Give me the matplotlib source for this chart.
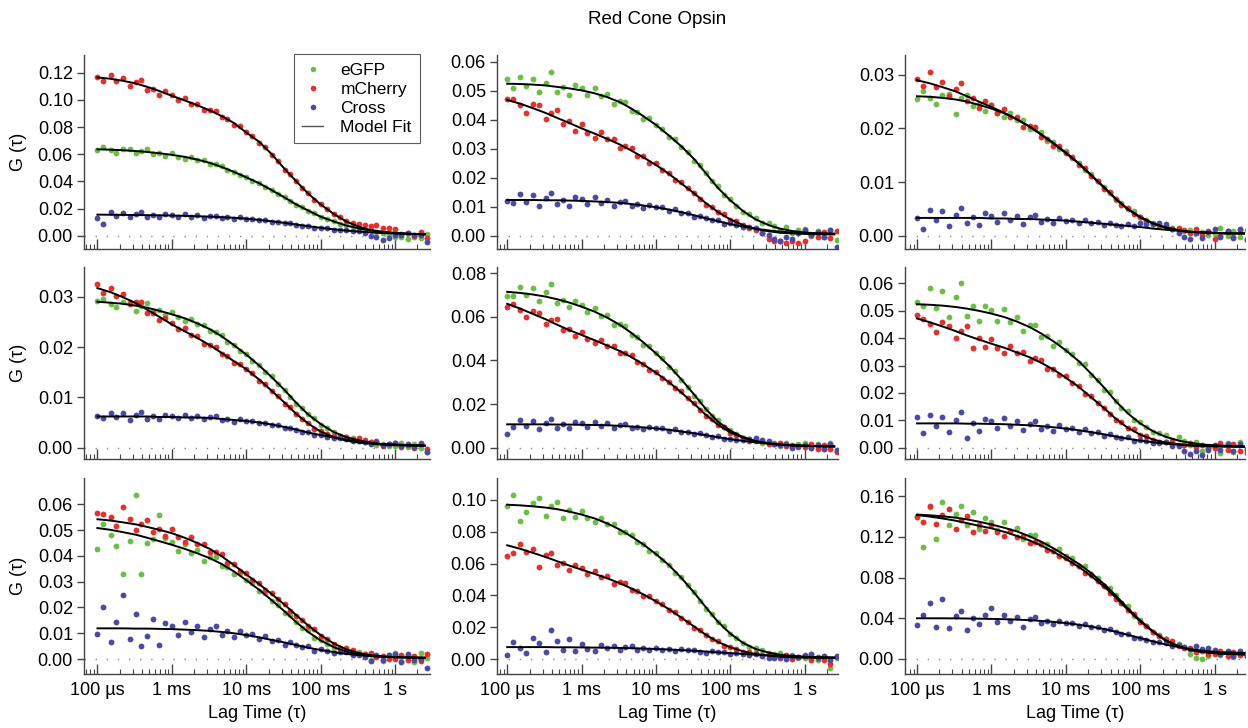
import matplotlib
matplotlib.use("Agg")
import matplotlib.pyplot as plt
from matplotlib.lines import Line2D
from matplotlib.ticker import FixedLocator, LogLocator, NullFormatter

plt.rcParams['font.family'] = ['Liberation Sans', 'DejaVu Sans']

# lag times (ms) of the correlation points and of the fit curves
LAG_MS = [0.1, 0.12, 0.15, 0.18, 0.22, 0.27, 0.33, 0.39, 0.47, 0.56, 0.68, 0.82,
          1.0, 1.2, 1.5, 1.8, 2.2, 2.7, 3.3, 3.9, 4.7, 5.6, 6.8, 8.2,
          10, 12, 15, 18, 22, 27, 33, 39, 47, 56, 68, 82,
          100, 120, 150, 180, 220, 270, 330, 390, 470, 560, 680, 820,
          1000, 1200, 1500, 1800, 2200, 2700]
FIT_LAG_MS = [0.1, 0.15, 0.22, 0.33, 0.47, 0.68, 1.0, 1.5, 2.2, 3.3, 4.7, 6.8,
              10, 15, 22, 33, 47, 68, 100, 150, 220, 330, 470, 680, 1000, 1500, 2500]

# G(tau) values in units of 1e-3; G = eGFP, R = mCherry, X = cross
G1_DOTS = [62.8, 65.3, 62.9, 61.1, 63.9, 64.0, 60.7, 62.6, 63.8, 60.2, 61.1, 58.7,
           60.7, 58.2, 56.8, 58.0, 55.8, 55.6, 52.7, 52.4, 51.1, 48.2, 47.2, 44.6,
           43.4, 40.6, 38.7, 35.6, 33.9, 30.8, 28.2, 25.3, 22.6, 21.0, 18.5, 16.7,
           13.8, 12.5, 10.5, 8.6, 7.7, 6.8, 5.1, 4.5, 4.4, 2.9, 2.0, 0.3,
           -0.8, -0.9, -2.8, -1.1, -1.4, 1.0]
R1_DOTS = [117.1, 114.2, 118.5, 113.9, 116.4, 110.0, 113.2, 114.4, 107.4, 108.3, 103.8, 106.6,
           103.9, 99.8, 101.6, 97.2, 97.2, 92.2, 92.6, 91.5, 87.1, 85.8, 81.8, 80.4,
           76.0, 73.1, 68.4, 65.4, 59.7, 54.8, 48.4, 45.1, 40.0, 35.2, 31.6, 26.4,
           23.3, 19.5, 15.7, 13.5, 11.1, 9.0, 8.9, 8.1, 7.1, 8.2, 5.4, 5.9,
           4.9, 1.4, 2.2, -0.4, 2.7, -1.6]
X1_DOTS = [13.2, 8.5, 17.2, 14.8, 16.7, 13.4, 15.9, 17.3, 13.8, 15.2, 13.4, 16.0,
           15.3, 13.8, 15.9, 14.1, 15.0, 13.1, 14.4, 14.7, 13.1, 13.6, 12.5, 13.4,
           12.5, 12.5, 11.2, 11.6, 10.4, 10.2, 9.0, 9.2, 8.2, 7.4, 7.4, 6.0,
           6.0, 5.3, 4.5, 4.5, 4.2, 3.2, 3.5, 1.9, 0.0, -0.7, -3.1, -1.4,
           0.5, 0.7, 1.8, 0.3, 0.2, -4.9]
G1_FIT = [63.6, 63.3, 62.9, 62.3, 61.6, 60.7, 59.5, 58, 56, 53.5, 50.5, 47, 43, 38.5,
          33.5, 28, 23, 18.5, 14, 10.5, 7.5, 5.3, 3.8, 2.8, 2.1, 1.5, 1.1]
R1_FIT = [116.5, 115.5, 114, 112, 109.5, 106.5, 103, 99.5, 96, 92, 88, 83, 76, 69,
          60, 49, 40, 31, 23, 16, 10.5, 6.5, 4.2, 2.8, 1.9, 1.3, 0.9]
X1_FIT = [15.5, 15.4, 15.3, 15.2, 15.1, 15.0, 14.8, 14.6, 14.3, 14.0, 13.6, 13.2, 12.5, 11.6,
          10.6, 9.4, 8.2, 7.0, 5.8, 4.7, 3.8, 3.0, 2.4, 1.9, 1.6, 1.3, 1.1]

G2_DOTS = [53.9, 50.9, 54.8, 51.5, 54.1, 49.5, 52.8, 56.3, 49.6, 51.3, 48.6, 52.0,
           50.9, 48.4, 50.9, 48.0, 48.8, 45.4, 46.5, 46.2, 43.1, 42.8, 40.2, 40.5,
           38.2, 36.9, 34.0, 33.5, 30.6, 28.9, 25.8, 24.4, 21.5, 18.8, 17.0, 13.9,
           12.5, 10.3, 8.2, 7.3, 6.1, 4.4, 4.4, 3.3, 1.9, 3.0, 0.9, 1.9,
           2.4, 0.0, 1.6, -0.6, 2.1, -1.5]
R2_DOTS = [47.2, 47.0, 45.0, 42.3, 45.3, 44.9, 40.3, 42.2, 43.4, 38.5, 39.4, 36.2,
           38.5, 35.4, 33.7, 35.6, 33.2, 33.4, 30.4, 30.9, 30.1, 27.4, 27.3, 25.2,
           24.9, 22.6, 21.6, 19.2, 18.5, 16.3, 14.8, 12.6, 10.7, 9.9, 8.2, 7.4,
           5.4, 4.9, 3.6, 2.5, 2.0, 0.9, -1.3, -1.8, -1.8, -2.6, -2.0, -2.6,
           -1.9, 0.1, -0.5, 1.2, -0.9, 1.7]
X2_DOTS = [12.0, 11.1, 14.3, 11.7, 13.9, 10.3, 13.0, 14.6, 10.8, 12.4, 10.3, 13.3,
           12.6, 10.9, 13.2, 11.3, 12.4, 10.3, 11.7, 12.1, 10.3, 10.9, 9.6, 10.7,
           9.8, 9.8, 8.6, 9.2, 7.9, 7.8, 6.6, 6.9, 6.0, 5.3, 5.4, 4.1,
           4.2, 3.6, 2.9, 3.0, 2.8, 0.9, 0.4, -1.2, -2.0, -0.5, -1.0, 0.9,
           1.9, 0.1, 1.4, -0.3, 1.9, -3.9]
G2_FIT = [52.4, 52.3, 52.1, 51.8, 51.3, 50.8, 50.1, 49.1, 47.8, 46.0, 43.8, 41.2, 38.2, 34.5,
          30.8, 26.3, 21.5, 16.5, 12.2, 8.4, 5.6, 3.6, 2.4, 1.6, 1.1, 0.8, 0.6]
R2_FIT = [46.8, 45.5, 44.0, 42.3, 40.6, 38.9, 37.0, 35.2, 33.4, 31.4, 29.3, 27.0, 24.4, 21.3,
          18.0, 14.5, 11.2, 8.2, 5.6, 3.6, 2.3, 1.5, 1.0, 0.8, 0.6, 0.5, 0.4]
X2_FIT = [12.3, 12.3, 12.3, 12.2, 12.2, 12.1, 12.0, 11.8, 11.6, 11.3, 10.9, 10.4, 9.8, 9.0,
          8.1, 7.0, 6.0, 5.0, 4.0, 3.1, 2.4, 1.8, 1.4, 1.1, 0.9, 0.8, 0.7]

G3_DOTS = [25.5, 27.0, 25.7, 24.6, 26.3, 26.4, 22.7, 25.6, 26.3, 24.1, 24.6, 23.2,
           24.4, 22.9, 22.1, 22.9, 21.6, 21.5, 19.8, 19.8, 19.3, 17.7, 17.4, 16.2,
           15.7, 14.4, 13.6, 12.2, 11.5, 10.2, 9.1, 7.9, 6.7, 6.1, 5.0, 4.5,
           3.4, 3.0, 2.3, 1.7, 1.6, 1.5, 0.9, 0.9, 1.1, 0.4, 0.7, 0.2,
           0.3, 1.5, -0.1, 0.8, -0.2, 1.0]
R3_DOTS = [29.2, 28.0, 30.5, 27.7, 28.7, 26.1, 27.4, 28.5, 25.2, 25.6, 23.9, 25.2,
           24.4, 22.9, 23.7, 22.1, 22.2, 20.3, 20.5, 20.2, 18.4, 18.1, 16.7, 16.7,
           15.4, 14.6, 13.2, 12.7, 11.1, 10.2, 8.7, 8.1, 6.8, 5.8, 5.1, 4.0,
           3.5, 2.8, 2.1, 2.0, 1.7, 1.2, 1.4, 1.0, 0.5, 1.2, 0.2, 0.8,
           -0.6, -0.1, 0.8, -0.2, 1.1, -0.6]
X3_DOTS = [3.2, 1.3, 4.8, 2.9, 4.5, 1.8, 3.9, 5.1, 2.3, 3.5, 2.0, 4.2,
           3.7, 2.5, 4.3, 2.9, 3.7, 2.2, 3.4, 3.8, 2.6, 3.1, 2.3, 3.3,
           2.8, 3.0, 2.3, 3.0, 2.3, 2.5, 1.9, 2.4, 2.0, 1.8, 2.1, 1.7,
           2.3, 2.2, 2.1, 2.4, 2.2, 1.3, 0.4, -0.3, -0.6, 0.5, -0.5, 0.6,
           1.3, -0.2, 0.9, -0.4, 1.3, -0.8]
G3_FIT = [26.0, 25.9, 25.7, 25.4, 25.0, 24.4, 23.7, 22.8, 21.7, 20.3, 18.9, 17.3, 15.5, 13.5,
          11.3, 9.0, 6.9, 5.0, 3.5, 2.3, 1.5, 1.0, 0.7, 0.6, 0.5, 0.4, 0.4]
R3_FIT = [29.0, 28.4, 27.7, 26.9, 26.0, 25.0, 24.0, 22.9, 21.7, 20.3, 18.8, 17.2, 15.4, 13.4,
          11.2, 8.9, 6.8, 4.9, 3.4, 2.2, 1.5, 1.0, 0.7, 0.6, 0.5, 0.4, 0.4]
X3_FIT = [3.3, 3.3, 3.3, 3.3, 3.3, 3.3, 3.2, 3.2, 3.1, 3.1, 3.0, 2.9, 2.8, 2.6,
          2.4, 2.2, 2.0, 1.8, 1.6, 1.3, 1.1, 0.9, 0.7, 0.6, 0.5, 0.4, 0.4]

G4_DOTS = [29.2, 29.6, 28.6, 27.9, 29.0, 29.0, 27.2, 28.2, 28.7, 27.1, 27.4, 26.3,
           27.0, 25.9, 25.2, 25.6, 24.6, 24.4, 23.2, 23.0, 22.3, 21.0, 20.5, 19.3,
           18.7, 17.3, 16.4, 15.0, 14.2, 12.7, 11.5, 10.1, 8.7, 7.9, 6.6, 5.9,
           4.6, 4.0, 3.1, 2.4, 2.2, 2.0, 1.3, 1.2, 1.2, 0.6, 0.8, 0.4,
           0.4, 0.9, 0.2, 0.7, 0.0, -0.8]
R4_DOTS = [32.5, 30.8, 31.7, 30.2, 30.5, 28.6, 29.0, 29.0, 26.8, 26.8, 25.3, 25.8,
           24.7, 23.5, 23.7, 22.3, 22.1, 20.6, 20.5, 20.0, 18.6, 18.2, 16.9, 16.6,
           15.6, 14.8, 13.3, 12.6, 11.2, 10.3, 8.7, 8.0, 6.7, 5.7, 5.0, 3.8,
           3.3, 2.7, 2.3, 2.3, 2.2, 1.7, 1.9, 1.5, 1.1, 1.3, 0.4, 0.8,
           0.9, 0.2, 0.6, 0.0, 0.9, -0.2]
X4_DOTS = [6.3, 5.8, 6.9, 6.0, 6.8, 5.5, 6.5, 7.0, 5.7, 6.3, 5.6, 6.5,
           6.3, 5.8, 6.5, 5.9, 6.3, 5.6, 6.0, 6.2, 5.5, 5.7, 5.2, 5.6,
           5.3, 5.3, 4.9, 5.0, 4.5, 4.5, 4.0, 4.0, 3.6, 3.2, 3.1, 2.6,
           2.6, 2.2, 1.9, 1.9, 1.7, 1.3, 1.4, 1.2, 0.8, 1.1, 0.5, 0.8,
           1.0, 0.3, 0.7, 0.1, 0.8, -0.8]
G4_FIT = [29.0, 28.8, 28.6, 28.2, 27.8, 27.2, 26.5, 25.7, 24.7, 23.5, 22.1, 20.4, 18.5, 16.3,
          14.0, 11.4, 8.9, 6.6, 4.7, 3.1, 2.1, 1.4, 1.0, 0.7, 0.6, 0.5, 0.4]
R4_FIT = [31.7, 30.9, 29.9, 28.7, 27.4, 26.0, 24.5, 23.1, 21.8, 20.3, 18.8, 17.2, 15.6, 13.5,
          11.3, 8.9, 6.7, 4.8, 3.2, 2.1, 1.4, 1.0, 0.8, 0.6, 0.5, 0.4, 0.4]
X4_FIT = [6.2, 6.2, 6.2, 6.2, 6.2, 6.1, 6.1, 6.0, 6.0, 5.9, 5.7, 5.5, 5.3, 5.0,
          4.6, 4.1, 3.6, 3.0, 2.5, 2.0, 1.6, 1.2, 0.9, 0.7, 0.6, 0.5, 0.4]

G5_DOTS = [69.5, 69.8, 73.5, 70.2, 73.3, 67.3, 71.3, 75.0, 66.4, 67.6, 64.4, 67.2,
           65.5, 62.3, 64.2, 60.6, 60.7, 56.5, 56.8, 55.7, 51.9, 50.7, 47.3, 46.6,
           43.3, 41.0, 37.1, 35.2, 31.1, 28.0, 23.7, 21.5, 17.7, 14.6, 12.5, 9.4,
           8.1, 6.3, 4.6, 4.2, 3.5, 2.3, 2.8, 2.0, 0.9, 2.3, 0.4, 1.5,
           2.2, -0.2, 1.5, -0.6, 2.1, -1.5]
R5_DOTS = [64.5, 66.0, 63.3, 60.1, 62.7, 61.9, 56.9, 58.4, 59.2, 54.0, 54.5, 51.1,
           53.2, 49.8, 47.8, 49.4, 46.7, 46.6, 43.3, 43.4, 42.3, 39.1, 38.5, 35.8,
           34.9, 32.0, 30.3, 27.2, 25.8, 22.6, 20.3, 17.3, 14.5, 13.1, 10.6, 9.3,
           6.8, 6.0, 4.5, 3.2, 3.2, 2.9, 1.7, 1.6, 2.1, 0.7, 1.3, 0.2,
           0.3, 1.7, -0.4, 1.3, -0.8, -2.0]
X5_DOTS = [6.5, 9.5, 12.7, 10.1, 12.3, 8.7, 11.5, 13.1, 9.2, 10.8, 8.8, 11.8,
           11.1, 9.5, 11.8, 10.0, 11.1, 9.0, 10.4, 10.9, 9.1, 9.7, 8.5, 9.7,
           8.8, 8.9, 7.8, 8.4, 7.2, 7.2, 6.2, 6.6, 5.7, 5.1, 5.2, 4.0,
           4.1, 3.5, 3.4, 4.2, 4.4, 3.3, 3.2, 1.8, 1.0, 1.6, 0.0, 0.9,
           1.4, 0.0, 1.3, -0.4, 1.8, -1.1]
G5_FIT = [71.5, 71.0, 70.3, 69.3, 68.1, 66.6, 64.7, 62.4, 59.7, 56.3, 52.6, 48.3, 43.3, 37.6,
          31.3, 24.2, 17.7, 12.0, 7.8, 4.8, 3.0, 2.0, 1.4, 1.1, 0.9, 0.7, 0.6]
R5_FIT = [66.0, 63.8, 61.4, 58.9, 56.4, 54.0, 51.7, 49.3, 46.9, 44.3, 41.5, 38.2, 34.4, 30.0,
          25.3, 20.0, 15.0, 10.6, 7.0, 4.5, 2.9, 1.9, 1.3, 1.0, 0.8, 0.6, 0.5]
X5_FIT = [10.7, 10.7, 10.7, 10.7, 10.6, 10.6, 10.5, 10.4, 10.3, 10.0, 9.7, 9.3, 8.8, 8.2,
          7.4, 6.6, 5.7, 4.8, 3.9, 3.1, 2.4, 1.8, 1.4, 1.1, 0.9, 0.7, 0.6]

G6_DOTS = [53.2, 51.9, 58.2, 50.9, 57.1, 47.7, 55.0, 60.0, 48.0, 51.8, 46.4, 51.9,
           50.2, 46.4, 50.5, 46.1, 47.7, 42.7, 44.8, 44.9, 40.5, 40.7, 37.3, 38.5,
           35.6, 34.4, 30.8, 30.5, 26.6, 24.9, 21.1, 20.3, 17.0, 14.4, 13.4, 10.0,
           9.3, 7.5, 5.6, 5.4, 4.8, 2.9, 3.8, 2.6, 1.0, 2.1, -1.0, -0.2,
           -0.1, -1.8, 1.9, -1.4, 2.2, -0.8]
R6_DOTS = [48.3, 47.0, 45.2, 42.1, 45.8, 44.6, 40.2, 42.7, 44.3, 36.5, 40.1, 36.7,
           39.8, 36.4, 34.7, 37.2, 34.5, 35.1, 31.8, 32.6, 31.9, 28.9, 28.9, 26.5,
           26.2, 23.6, 22.5, 19.7, 19.0, 16.4, 14.7, 12.2, 10.0, 9.3, 7.3, 6.7,
           4.5, 4.2, 3.0, 1.9, 2.2, 2.2, 1.0, 1.1, 1.8, 0.2, 1.0, -0.2,
           0.0, 1.8, -0.7, 1.4, -1.1, -1.8]
X6_DOTS = [11.2, 5.5, 11.9, 8.0, 11.3, 5.9, 10.1, 13.0, 3.5, 9.1, 6.1, 10.6,
           9.6, 7.2, 10.7, 7.9, 9.6, 6.5, 8.8, 9.6, 7.0, 8.0, 6.3, 8.2,
           7.0, 7.3, 5.8, 7.0, 5.4, 5.6, 4.3, 5.1, 4.1, 3.4, 3.9, 2.4,
           2.9, 2.3, 1.7, 2.1, 2.1, 0.5, 0.5, -1.3, -2.3, -1.1, -2.8, -0.9,
           1.0, -0.8, 1.3, -1.2, 1.2, -0.6]
G6_FIT = [52.4, 52.2, 51.9, 51.4, 50.8, 50.0, 49.0, 47.7, 46.1, 44.0, 41.7, 38.9, 35.6, 31.6,
          27.0, 21.9, 17.0, 12.6, 8.9, 6.0, 4.0, 2.6, 1.8, 1.2, 0.9, 0.7, 0.5]
R6_FIT = [47.2, 45.8, 44.3, 42.6, 41.0, 39.5, 38.0, 36.5, 34.8, 33.0, 31.0, 28.6, 25.6, 22.2,
          18.4, 14.4, 10.6, 7.3, 4.8, 3.0, 1.9, 1.3, 0.9, 0.7, 0.6, 0.5, 0.4]
X6_FIT = [8.9, 8.9, 8.9, 8.9, 8.8, 8.8, 8.7, 8.6, 8.4, 8.2, 7.9, 7.5, 7.0, 6.4,
          5.7, 4.9, 4.1, 3.3, 2.6, 2.0, 1.5, 1.1, 0.8, 0.6, 0.5, 0.4, 0.3]

G7_DOTS = [42.8, 52.5, 48.0, 44.0, 32.8, 45.7, 63.5, 33.0, 44.9, 46.7, 56.0, 46.8,
           45.2, 42.0, 44.8, 41.3, 42.2, 38.2, 39.6, 39.4, 35.9, 35.7, 32.8, 33.2,
           30.6, 29.3, 26.2, 25.7, 22.5, 20.9, 17.8, 17.0, 14.3, 12.1, 11.1, 8.3,
           7.5, 5.9, 4.3, 4.1, 3.5, 2.1, 2.7, 1.8, -0.2, 1.3, -0.8, 1.4,
           2.2, -0.6, 1.5, -1.0, 2.3, 0.5]
R7_DOTS = [56.8, 56.2, 55.0, 51.5, 58.8, 54.4, 50.2, 52.5, 54.0, 49.4, 50.6, 47.7,
           50.3, 47.2, 45.5, 47.3, 44.8, 44.8, 41.6, 41.7, 40.6, 37.4, 36.8, 34.2,
           33.3, 30.7, 29.3, 26.6, 25.7, 23.1, 21.3, 18.8, 16.5, 15.3, 13.0, 11.7,
           9.1, 7.9, 6.0, 4.4, 4.1, 3.6, 2.1, 1.9, 2.3, 0.8, 1.3, 0.1,
           0.2, 1.7, -0.4, 1.3, -0.8, 1.8]
X7_DOTS = [9.8, 20.0, 6.5, 14.5, 25.0, 7.9, 17.5, 5.0, 9.0, 15.5, 5.6, 14.1,
           12.8, 9.5, 14.2, 10.5, 12.8, 8.7, 11.7, 12.7, 9.3, 10.7, 8.4, 10.9,
           9.3, 9.7, 7.6, 9.1, 7.0, 7.3, 5.6, 6.7, 5.4, 4.5, 5.2, 3.2,
           3.9, 3.1, 2.3, 2.8, 2.8, 1.4, 1.7, 0.7, -0.7, 1.6, -0.3, 1.6,
           1.8, -1.0, 1.8, -0.5, 0.2, -3.5]
G7_FIT = [50.8, 50.1, 49.2, 48.2, 47.0, 45.7, 44.3, 42.7, 41.0, 39.0, 36.8, 34.0, 30.6, 26.8,
          22.8, 18.4, 14.3, 10.5, 7.2, 4.6, 2.9, 1.8, 1.2, 0.9, 0.7, 0.6, 0.5]
R7_FIT = [54.2, 53.7, 53.0, 52.2, 51.2, 50.1, 48.8, 47.0, 45.0, 42.6, 39.8, 36.5, 32.8, 29.0,
          25.2, 21.0, 17.0, 13.0, 9.3, 6.0, 3.8, 2.3, 1.5, 1.0, 0.7, 0.6, 0.5]
X7_FIT = [11.9, 11.9, 11.9, 11.8, 11.8, 11.7, 11.6, 11.4, 11.2, 10.9, 10.5, 10.0, 9.3, 8.4,
          7.4, 6.4, 5.4, 4.4, 3.5, 2.7, 2.0, 1.5, 1.1, 0.9, 0.7, 0.6, 0.5]

G8_DOTS = [96.0, 103.2, 86.5, 92.3, 98.0, 101.5, 90.0, 95.9, 98.6, 88.5, 93.5, 89.0,
           93.2, 88.4, 86.0, 88.9, 84.9, 84.9, 79.7, 80.0, 78.2, 73.3, 72.4, 68.2,
           66.8, 62.1, 59.4, 54.2, 51.8, 46.3, 41.9, 36.6, 31.7, 28.4, 23.5, 20.6,
           15.6, 13.4, 10.0, 7.4, 6.7, 6.0, 3.6, 3.4, 3.9, 1.5, 2.3, 0.5,
           0.6, 2.9, -0.5, 2.2, -5.5, 0.5]
R8_DOTS = [64.5, 66.5, 72.5, 67.2, 69.2, 58.0, 65.3, 66.4, 59.4, 60.5, 56.1, 59.3,
           57.1, 53.4, 55.6, 51.6, 52.0, 47.4, 48.2, 47.5, 43.4, 42.8, 39.4, 39.4,
           36.3, 34.4, 30.7, 29.6, 25.7, 23.5, 19.7, 18.4, 15.2, 12.7, 11.4, 8.5,
           7.7, 6.1, 4.5, 4.3, 3.7, 2.3, 3.0, 2.1, 0.9, 2.5, 0.2, 1.6,
           2.4, -0.4, 1.6, -0.9, -3.0, 1.0]
X8_DOTS = [2.5, 10.7, 6.8, 4.0, 13.0, 10.0, 4.7, 18.3, 11.3, 5.7, 12.5, 4.9,
           9.4, 6.2, 5.1, 8.9, 6.8, 8.5, 5.6, 7.6, 7.9, 5.7, 7.0, 5.8,
           7.0, 5.8, 6.4, 5.1, 6.3, 5.4, 5.6, 4.6, 4.0, 4.8, 4.2, 4.7,
           3.4, 3.8, 3.2, 2.3, 3.0, 2.2, 0.5, 0.6, 1.4, 0.0, 2.0, 1.5,
           2.2, 3.2, 0.8, 2.2, -0.8, 2.0]
G8_FIT = [97.0, 96.6, 96.0, 95.2, 94.2, 92.7, 90.8, 88.4, 85.3, 81.3, 77.0, 72.0, 66.0, 59.0,
          51.0, 41.5, 32.5, 23.5, 16.0, 10.0, 6.3, 4.0, 2.7, 1.9, 1.4, 1.1, 0.9]
R8_FIT = [71.5, 69.3, 66.8, 64.1, 61.5, 58.8, 56.2, 53.5, 50.8, 47.6, 44.3, 40.6, 36.3, 31.3,
          26.0, 20.3, 15.2, 10.8, 7.4, 4.8, 3.1, 2.1, 1.5, 1.1, 0.9, 0.7, 0.6]
X8_FIT = [7.5, 7.5, 7.5, 7.5, 7.4, 7.4, 7.3, 7.2, 7.1, 7.0, 6.8, 6.6, 6.3, 6.0,
          5.6, 5.2, 4.7, 4.2, 3.7, 3.2, 2.7, 2.3, 1.9, 1.6, 1.4, 1.2, 1.0]

G9_DOTS = [140.5, 110.0, 149.3, 118.0, 154.0, 131.7, 142.2, 150.0, 131.7, 145.0, 127.8, 138.5,
           134.7, 126.7, 134.6, 125.7, 128.7, 118.2, 122.1, 121.9, 112.9, 113.0, 105.8, 107.7,
           101.5, 99.1, 91.9, 91.4, 83.7, 79.8, 71.9, 69.6, 62.5, 55.5, 51.6, 42.4,
           38.8, 32.5, 26.2, 23.6, 20.1, 14.7, 14.9, 11.6, 4.4, 0.5, -0.4, 3.0,
           7.0, 3.5, 6.5, 2.0, 5.5, 3.0]
R9_DOTS = [140.0, 135.0, 150.0, 133.1, 141.2, 147.5, 128.0, 136.6, 140.2, 124.5, 132.2, 125.6,
           132.1, 125.0, 121.4, 126.0, 120.4, 121.2, 114.1, 115.2, 113.3, 106.7, 106.1, 100.8,
           99.7, 93.9, 91.1, 84.8, 82.7, 76.3, 71.6, 65.2, 59.3, 55.1, 48.5, 44.0,
           36.4, 32.4, 26.5, 22.1, 20.1, 17.9, 12.7, 10.6, 10.6, 6.7, 7.5, 4.5,
           4.5, 7.7, 2.5, 6.5, 4.0, 6.0]
X9_DOTS = [33.0, 43.5, 55.5, 31.0, 58.5, 30.0, 42.4, 47.1, 28.0, 40.3, 34.2, 43.1,
           50.0, 36.3, 43.3, 37.7, 41.1, 31.5, 39.3, 40.8, 35.6, 37.6, 34.1, 37.7,
           35.3, 35.7, 32.5, 34.6, 31.2, 31.2, 28.2, 29.3, 26.8, 24.7, 25.0, 21.0,
           21.1, 18.9, 16.6, 16.3, 15.4, 12.4, 13.5, 11.3, 9.5, 12.9, 9.5, 10.9,
           9.0, 4.4, 8.2, 3.2, 7.5, 3.0]
G9_FIT = [142.0, 141.3, 140.3, 139.0, 137.3, 135.0, 132.3, 129.0, 125.5, 120.5, 115.3, 109.0, 101.5, 93.5,
          84.5, 73.5, 62.5, 50.0, 38.0, 27.0, 18.5, 12.5, 9.0, 7.0, 5.8, 5.0, 4.5]
R9_FIT = [141.5, 140.0, 138.2, 136.0, 133.6, 131.0, 128.5, 125.0, 121.0, 116.5, 111.5, 105.5, 98.5, 90.5,
          81.5, 71.0, 60.5, 48.5, 37.0, 26.5, 18.0, 12.3, 8.8, 6.9, 5.7, 4.9, 4.4]
X9_FIT = [40.0, 40.0, 40.0, 39.9, 39.8, 39.6, 39.4, 39.1, 38.7, 38.1, 37.4, 36.5, 35.3, 33.7,
          31.8, 29.4, 26.8, 23.8, 20.5, 17.2, 14.2, 11.7, 9.7, 8.2, 7.1, 6.4, 5.9]

Y_LIMS = [(-0.0098, 0.133), (-0.0046, 0.0623), (-0.0025, 0.0337),
          (-0.00225, 0.0359), (-0.0052, 0.0829), (-0.0041, 0.066),
          (-0.0058, 0.0702), (-0.0094, 0.1138), (-0.0148, 0.178)]
Y_STEP = [0.02, 0.01, 0.01, 0.01, 0.02, 0.01, 0.01, 0.02, 0.04]
Y_NTICK = [6, 6, 3, 3, 4, 6, 6, 5, 4]
X_LIMS = [(6.6e-5, 2.95), (7.3e-5, 2.81), (6.9e-5, 2.57)]
X_TICKS = [1e-4, 1e-3, 1e-2, 1e-1, 1.0]
X_TICK_LABELS = ['100 \u00b5s', '1 ms', '10 ms', '100 ms', '1 s']

GREEN = '#6cbf45'
RED = '#e8302a'
BLUE = '#4b4aa6'

panels = [
    (G1_DOTS, R1_DOTS, X1_DOTS, G1_FIT, R1_FIT, X1_FIT),
    (G2_DOTS, R2_DOTS, X2_DOTS, G2_FIT, R2_FIT, X2_FIT),
    (G3_DOTS, R3_DOTS, X3_DOTS, G3_FIT, R3_FIT, X3_FIT),
    (G4_DOTS, R4_DOTS, X4_DOTS, G4_FIT, R4_FIT, X4_FIT),
    (G5_DOTS, R5_DOTS, X5_DOTS, G5_FIT, R5_FIT, X5_FIT),
    (G6_DOTS, R6_DOTS, X6_DOTS, G6_FIT, R6_FIT, X6_FIT),
    (G7_DOTS, R7_DOTS, X7_DOTS, G7_FIT, R7_FIT, X7_FIT),
    (G8_DOTS, R8_DOTS, X8_DOTS, G8_FIT, R8_FIT, X8_FIT),
    (G9_DOTS, R9_DOTS, X9_DOTS, G9_FIT, R9_FIT, X9_FIT),
]

W, H = 1248, 728
col_left = [84, 497, 905]
col_width = [346, 341, 340]
row_top = [55, 267, 478]
row_bottom = [249, 459, 674]

lag = [t / 1000 for t in LAG_MS]
fit_lag = [t / 1000 for t in FIT_LAG_MS]

fig = plt.figure(figsize=(W / 100, H / 100), dpi=100)
fig.text(657 / W, 1 - 20 / H, 'Red Cone Opsin', ha='center', va='center', fontsize=13.5)

axes = []
for i, (gd, rd, xd, gf, rf, xf) in enumerate(panels):
    r, c = divmod(i, 3)
    ax = fig.add_axes([col_left[c] / W, 1 - row_bottom[r] / H,
                       col_width[c] / W, (row_bottom[r] - row_top[r]) / H])
    axes.append(ax)
    ax.set_xscale('log')
    ax.axhline(0, color='#8a8a8a', lw=1, ls=(0, (1, 7)), zorder=1)

    for vals, col in ((gd, GREEN), (rd, RED), (xd, BLUE)):
        ax.plot(lag, [v * 1e-3 for v in vals], 'o', color=col, ms=4.2, mew=0, zorder=2)
    for vals in (gf, rf, xf):
        ax.plot(fit_lag, [v * 1e-3 for v in vals], '-', color='black', lw=1.4, zorder=3)

    ax.set_xlim(*X_LIMS[c])
    ax.set_ylim(*Y_LIMS[i])
    yt = [k * Y_STEP[i] for k in range(Y_NTICK[i] + 1)]
    ax.set_yticks(yt)
    ax.set_yticklabels([f'{v:.2f}' for v in yt])

    for s in ('top', 'right'):
        ax.spines[s].set_visible(False)
    for s in ('left', 'bottom'):
        ax.spines[s].set_color('#444444')
        ax.spines[s].set_linewidth(1.0)

    ax.xaxis.set_major_locator(FixedLocator(X_TICKS))
    ax.xaxis.set_minor_locator(LogLocator(base=10, subs=range(2, 10), numticks=20))
    ax.xaxis.set_minor_formatter(NullFormatter())
    ax.tick_params(axis='y', direction='out', length=5, width=1, color='#444444',
                   labelsize=13, pad=3)
    ax.tick_params(axis='x', which='major', direction='in', length=7, width=1,
                   color='#444444', labelsize=13, pad=6)
    ax.tick_params(axis='x', which='minor', direction='in', length=3.5, width=0.8,
                   color='#444444')
    if r == 2:
        ax.set_xticklabels(X_TICK_LABELS)
        ax.set_xlabel('Lag Time (\u03c4)', fontsize=13, labelpad=4)
    else:
        ax.set_xticklabels([])
    if c == 0:
        ax.set_ylabel('G (\u03c4)', fontsize=13, labelpad=8)

handles = [
    Line2D([], [], marker='o', ls='none', color=GREEN, ms=4, mew=0),
    Line2D([], [], marker='o', ls='none', color=RED, ms=4, mew=0),
    Line2D([], [], marker='o', ls='none', color=BLUE, ms=4, mew=0),
    Line2D([], [], color='#555555', lw=1),
]
leg = axes[0].legend(handles, ['eGFP', 'mCherry', 'Cross', 'Model Fit'],
                     loc='upper right', bbox_to_anchor=(0.972, 1.005), fontsize=12.5,
                     frameon=True, fancybox=False, borderaxespad=0, handlelength=1.2,
                     handletextpad=1.0, labelspacing=0.22, borderpad=0.5)
leg.get_frame().set_edgecolor('#333333')
leg.get_frame().set_linewidth(0.8)

fig.savefig('out.png', dpi=100)
